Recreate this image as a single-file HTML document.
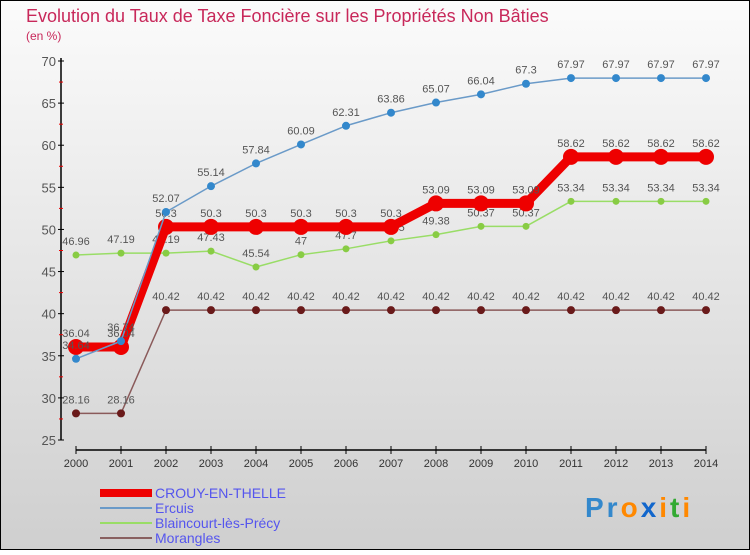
<!DOCTYPE html>
<html><head><meta charset="utf-8"><style>
html,body{margin:0;padding:0}
body{width:750px;height:550px;overflow:hidden;font-family:"Liberation Sans",sans-serif}
</style></head><body>
<svg id="chart" width="750" height="550" xmlns="http://www.w3.org/2000/svg" font-family="Liberation Sans, sans-serif">
<defs><linearGradient id="bg" x1="0" y1="0" x2="0" y2="1"><stop offset="0" stop-color="#fbfbfb"/><stop offset="1" stop-color="#cfcfcf"/></linearGradient></defs>
<rect x="0.5" y="0.5" width="749" height="549" fill="url(#bg)" stroke="#000"/>
<text x="26" y="22" font-size="18" fill="#c8285a">Evolution du Taux de Taxe Foncière sur les Propriétés Non Bâties</text>
<text x="26" y="40" font-size="12" fill="#c8285a">(en %)</text>
<g id="axes"></g><g id="series"></g>
<g font-size="14" fill="#5555ee">
<rect x="100" y="489" width="52" height="8" fill="#ee0000"/>
<text x="155" y="498" fill="#5555ee">CROUY-EN-THELLE</text>
<rect x="100" y="507" width="52" height="2" fill="#6a9ac8"/>
<text x="155" y="513" fill="#5555ee">Ercuis</text>
<rect x="100" y="522" width="52" height="2" fill="#99dd66"/>
<text x="155" y="528" fill="#5555ee">Blaincourt-lès-Précy</text>
<rect x="100" y="537" width="52" height="2" fill="#886060"/>
<text x="155" y="543" fill="#5555ee">Morangles</text>
</g>
<text x="585" y="517" font-size="28" font-weight="bold" letter-spacing="3"><tspan fill="#3388cc">Pr</tspan><tspan fill="#ff8800">o</tspan><tspan fill="#1166cc">x</tspan><tspan fill="#ff8800">i</tspan><tspan fill="#33aa33">t</tspan><tspan fill="#ff8800">i</tspan></text>
</svg>
<script>
const years=[2000,2001,2002,2003,2004,2005,2006,2007,2008,2009,2010,2011,2012,2013,2014];
const yTicks=[25,30,35,40,45,50,55,60,65,70];
const crouy=[36.04,36.04,50.3,50.3,50.3,50.3,50.3,50.3,53.09,53.09,53.09,58.62,58.62,58.62,58.62];
const ercuis=[34.64,36.74,52.07,55.14,57.84,60.09,62.31,63.86,65.07,66.04,67.3,67.97,67.97,67.97,67.97];
const blaincourt=[46.96,47.19,47.19,47.43,45.54,47,47.7,48.65,49.38,50.37,50.37,53.34,53.34,53.34,53.34];
const morangles=[28.16,28.16,40.42,40.42,40.42,40.42,40.42,40.42,40.42,40.42,40.42,40.42,40.42,40.42,40.42];
const NS="http://www.w3.org/2000/svg";
const x=i=>76+i*45, y=v=>440-(v-25)*(379/45);
function mk(tag,attrs,parent){const e=document.createElementNS(NS,tag);for(const k in attrs)e.setAttribute(k,attrs[k]);parent.appendChild(e);return e;}
const ax=document.getElementById('axes');
let e=mk('line',{x1:61,y1:58,x2:61,y2:440,stroke:'#000','stroke-width':1.5},ax);


e=mk('line',{x1:76,y1:450,x2:706,y2:450,stroke:'#000','stroke-width':1.5},ax);


yTicks.forEach((t,i)=>{
 mk('line',{x1:58,x2:64,y1:y(t),y2:y(t),stroke:'#000'},ax);
 if(i<yTicks.length-1) mk('line',{x1:59,x2:63,y1:y(t+2.5),y2:y(t+2.5),stroke:'#e00'},ax);
 const tx=mk('text',{x:56,y:y(t)+5,'text-anchor':'end','font-size':13,fill:'#555'},ax);tx.textContent=t;
 
 
});
years.forEach((yr,i)=>{
 mk('line',{x1:x(i),x2:x(i),y1:446,y2:454,stroke:'#000'},ax);
 const tx=mk('text',{x:x(i),y:467,'text-anchor':'middle','font-size':11,fill:'#333'},ax);tx.textContent=yr;
 
 
});
const sg=document.getElementById('series');
function draw(name,vals,color,w,r,fill){
 const g=mk('g',{},sg);
 
 
 const p=mk('polyline',{points:vals.map((v,i)=>x(i)+','+y(v)).join(' '),fill:'none',stroke:color,'stroke-width':w,'stroke-linejoin':'round'},g);
 
 
 vals.forEach((v,i)=>{
  const c=mk('circle',{cx:x(i),cy:y(v),r:r,fill:fill},g);
  
  
  const t=mk('text',{x:x(i),y:y(v)-10,'text-anchor':'middle','font-size':11,fill:'#555'},g);t.textContent=v;
  
  
 });
}
draw('morangles',morangles,'#8a5a5a',1.5,4,'#6a1a1a');
draw('blaincourt',blaincourt,'#99dd66',1.5,3.5,'#88cc44');
draw('crouy',crouy,'#ee0000',9,8,'#ee0000');
draw('ercuis',ercuis,'#6a9ac8',1.5,4,'#3388cc');
</script>
</body></html>
